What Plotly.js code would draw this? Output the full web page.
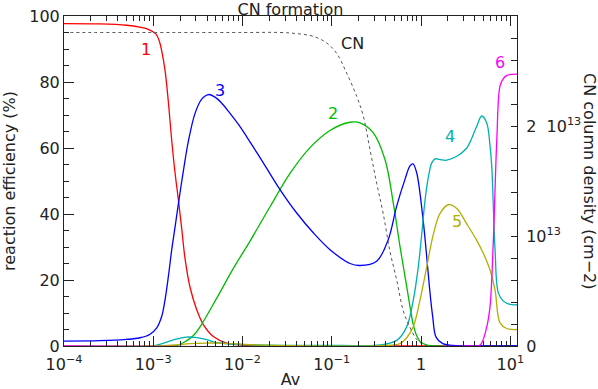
<!DOCTYPE html>
<html>
<head>
<meta charset="utf-8">
<script src="https://cdn.plot.ly/plotly-3.0.1.min.js"></script>
<style>html,body{margin:0;padding:0;background:#fff;}#chart{width:598px;height:389px;}</style>
</head>
<body>
<div id="chart"></div>
<script>
// ---- data (log10 Av positions and values) ----
const r1LogAv = [-4, -3.6, -3.3, -3.149, -3.05, -2.97, -2.93, -2.906, -2.868, -2.831, -2.794, -2.756, -2.719, -2.681, -2.644, -2.588, -2.513, -2.439, -2.327, -2.177, -2.0, -1.7, -1.0, 0, 1.075];
const r1Eff   = [97.7, 97.6, 97.2, 96.6, 95.9, 94.6, 92.2, 89.5, 83.5, 74.0, 62.5, 52.5, 44.4, 35.5, 26.5, 17.8, 11.0, 6.5, 2.9, 0.9, 0.3, 0.1, 0, 0, 0];

const r2LogAv = [-4, -2.76, -2.65, -2.55, -2.476, -2.289, -2.103, -1.916, -1.692, -1.468, -1.244, -1.020, -0.796, -0.684, -0.535, -0.404, -0.311, -0.236, -0.161, -0.124, -0.087, -0.05, -0.012, 0.067, 0.2, 1.075];
const r2Eff   = [0, 0, 1.2, 3.2, 5.8, 14.5, 23.5, 31.8, 42.2, 52.3, 60.1, 65.3, 67.8, 67.6, 64.6, 56.5, 43.4, 30.2, 18.1, 12.0, 6.5, 3.2, 1.4, 0.3, 0, 0];

const r3LogAv = [-4, -3.6, -3.3, -3.149, -3.04, -2.961, -2.905, -2.868, -2.831, -2.794, -2.756, -2.719, -2.663, -2.607, -2.532, -2.457, -2.383, -2.308, -2.24, -2.14, -2.028, -1.953, -1.767, -1.580, -1.393, -1.207, -1.020, -0.796, -0.684, -0.497, -0.367, -0.273, -0.180, -0.124, -0.09, -0.049, 0.02, 0.057, 0.094, 0.131, 0.168, 0.243, 0.35, 1.075];
const r3Eff   = [1.5, 1.6, 2.0, 2.5, 3.5, 5.5, 9, 14, 21, 29, 36, 43, 53, 62, 70.5, 74.8, 76.2, 75.4, 73.8, 70.5, 66.5, 63.4, 55.5, 47.4, 40.3, 34.3, 29.2, 25.0, 24.4, 25.7, 32.3, 42.4, 50.5, 54.6, 55.2, 52.5, 39, 29, 17.9, 8.8, 2.7, 0.7, 0.2, 0.1];

const r4LogAv = [-4, -3.05, -2.992, -2.868, -2.756, -2.633, -2.532, -2.401, -2.289, -2.14, -1.995, -1.58, -0.908, -0.460, -0.273, -0.161, -0.087, -0.031, 0.008, 0.044, 0.081, 0.120, 0.157, 0.213, 0.288, 0.400, 0.512, 0.624, 0.680, 0.736, 0.773, 0.792, 0.829, 0.866, 0.922, 0.997, 1.075];
const r4Eff   = [0, 0, 0.1, 1.0, 2.0, 2.7, 2.6, 1.9, 1.0, 0.6, 0.4, 0.2, 0.2, 0.3, 1.7, 5.8, 13.9, 24, 34, 44, 51, 55.5, 56.7, 56.5, 56.3, 57.5, 60, 66.6, 69.7, 67.6, 60.6, 54.5, 29.2, 16.1, 13.6, 12.6, 12.5];

const r5LogAv = [-4, -2.992, -2.756, -2.588, -2.401, -2.177, -1.916, -1.356, -0.460, -0.236, -0.161, -0.087, -0.012, 0.064, 0.139, 0.213, 0.306, 0.400, 0.512, 0.624, 0.699, 0.773, 0.829, 0.885, 0.960, 1.075];
const r5Eff   = [0, 0, 0.3, 0.7, 0.9, 0.8, 0.4, 0.1, 0.1, 0.7, 2.5, 5.8, 13.9, 24, 34, 40.2, 42.8, 41.7, 37, 32, 28, 23, 16.9, 7, 5.3, 5.0];

const r6LogAv = [-4, 0.549, 0.661, 0.736, 0.773, 0.810, 0.848, 0.885, 0.922, 0.960, 1.075];
const r6Eff   = [0, 0, 0.3, 5.8, 12, 32, 62, 78.8, 81, 82, 82.4];

const cnLogAv  = [-4, -2, -1.58, -1.393, -1.207, -1.057, -0.945, -0.833, -0.721, -0.647, -0.572, -0.497, -0.423, -0.348, -0.273, -0.199, -0.124, -0.049, 0.022, 0.1, 1.075];
const cnColumn = [2.85e13, 2.85e13, 2.85e13, 2.84e13, 2.815e13, 2.755e13, 2.66e13, 2.48e13, 2.27e13, 2.09e13, 1.785e13, 1.48e13, 1.2e13, 0.86e13, 0.6e13, 0.32e13, 0.17e13, 0.06e13, 0.015e13, 0, 0];

const xTickVals = [1e-4, 1e-3, 1e-2, 1e-1, 1, 10];
const xTickText = ['10<sup>−4</sup>', '10<sup>−3</sup>', '10<sup>−2</sup>', '10<sup>−1</sup>', '1', '10<sup>1</sup>'];
const y2TickVals = [0, 1e13, 2e13];
const y2TickText = ['0', '10<sup>13</sup>', '2\u00a0\u00a010<sup>13</sup>'];

const curveLabels = ['1', '2', '3', '4', '5', '6', 'CN'];
const labelLogAv  = [-3.085, -0.983, -2.252, 0.324, 0.399, 0.885, -0.773];
const labelEff    = [89.7, 70.4, 77.3, 63.5, 37.6, 85.8, 91.7];

// ---- styling ----
const FONT = 'DejaVu Sans, sans-serif';
const TXT = '#222';
const colors = {r1:'#ff0000', r2:'#00bb00', r3:'#0000ff', r4:'#00b0b0', r5:'#b0b000', r6:'#ff00ff', cn:'#555555'};
const labelColors = [colors.r1, colors.r2, colors.r3, colors.r4, colors.r5, colors.r6, TXT];

const toAv = a => a.map(v => Math.pow(10, v));
function line(lx, ly, c) {
  return {x: toAv(lx), y: ly, type: 'scatter', mode: 'lines',
          line: {color: c, width: 1.3, shape: 'spline', smoothing: 1},
          hoverinfo: 'skip', showlegend: false};
}
const traces = [
  line(r1LogAv, r1Eff, colors.r1),
  line(r2LogAv, r2Eff, colors.r2),
  line(r3LogAv, r3Eff, colors.r3),
  line(r4LogAv, r4Eff, colors.r4),
  line(r5LogAv, r5Eff, colors.r5),
  line(r6LogAv, r6Eff, colors.r6),
  {x: toAv(cnLogAv), y: cnColumn, yaxis: 'y2', type: 'scatter', mode: 'lines',
   line: {color: colors.cn, width: 1, dash: 'dot', shape: 'spline', smoothing: 1},
   hoverinfo: 'skip', showlegend: false}
];

const annotations = curveLabels.map((t, i) => ({
  x: labelLogAv[i], y: labelEff[i], xref: 'x', yref: 'y', text: t, showarrow: false,
  font: {family: FONT, size: 16, color: labelColors[i]}, xanchor: 'center', yanchor: 'middle'
}));
annotations.push({
  x: 1.161, y: 0.5, xref: 'paper', yref: 'paper', text: 'CN column density (cm−2)',
  textangle: 90, showarrow: false, font: {family: FONT, size: 16, color: TXT},
  xanchor: 'center', yanchor: 'middle'
});

const axisCommon = {
  showline: true, linecolor: '#222', linewidth: 1, showgrid: false, zeroline: false,
  ticks: 'inside', tickcolor: '#222', tickfont: {family: FONT, size: 16, color: TXT}
};

const layout = {
  width: 598, height: 389,
  margin: {l: 64, r: 81, t: 16, b: 43},
  paper_bgcolor: '#fff', plot_bgcolor: '#fff',
  font: {family: FONT, color: TXT},
  title: {text: 'CN formation', font: {family: FONT, size: 16, color: TXT},
          x: 0.5, xref: 'paper', xanchor: 'center', y: 0.977, yref: 'container', yanchor: 'middle'},
  xaxis: Object.assign({}, axisCommon, {
    type: 'log', range: [-4, 1.075], mirror: 'ticks', ticklen: 10, ticklabelstandoff: 4,
    tickmode: 'array', tickvals: xTickVals, ticktext: xTickText,
    minor: {ticks: 'inside', ticklen: 5, dtick: 'D1', tickcolor: '#222'},
    title: {text: 'Av', font: {family: FONT, size: 16, color: TXT}, standoff: 4}
  }),
  yaxis: Object.assign({}, axisCommon, {
    range: [0, 100], dtick: 20, ticklen: 10, mirror: false,
    minor: {ticks: 'inside', ticklen: 5, dtick: 5, tickcolor: '#222'},
    title: {text: 'reaction efficiency (%)', font: {family: FONT, size: 16, color: TXT}, standoff: 10}
  }),
  yaxis2: Object.assign({}, axisCommon, {
    overlaying: 'y', side: 'right', range: [0, 3e13], ticklen: 6, ticklabelstandoff: 5,
    tickmode: 'array', tickvals: y2TickVals, ticktext: y2TickText,
    minor: {ticks: 'inside', ticklen: 6, dtick: 2e12, tickcolor: '#222'}
  }),
  annotations: annotations
};

Plotly.newPlot('chart', traces, layout, {staticPlot: true, displayModeBar: false});
</script>
</body>
</html>
